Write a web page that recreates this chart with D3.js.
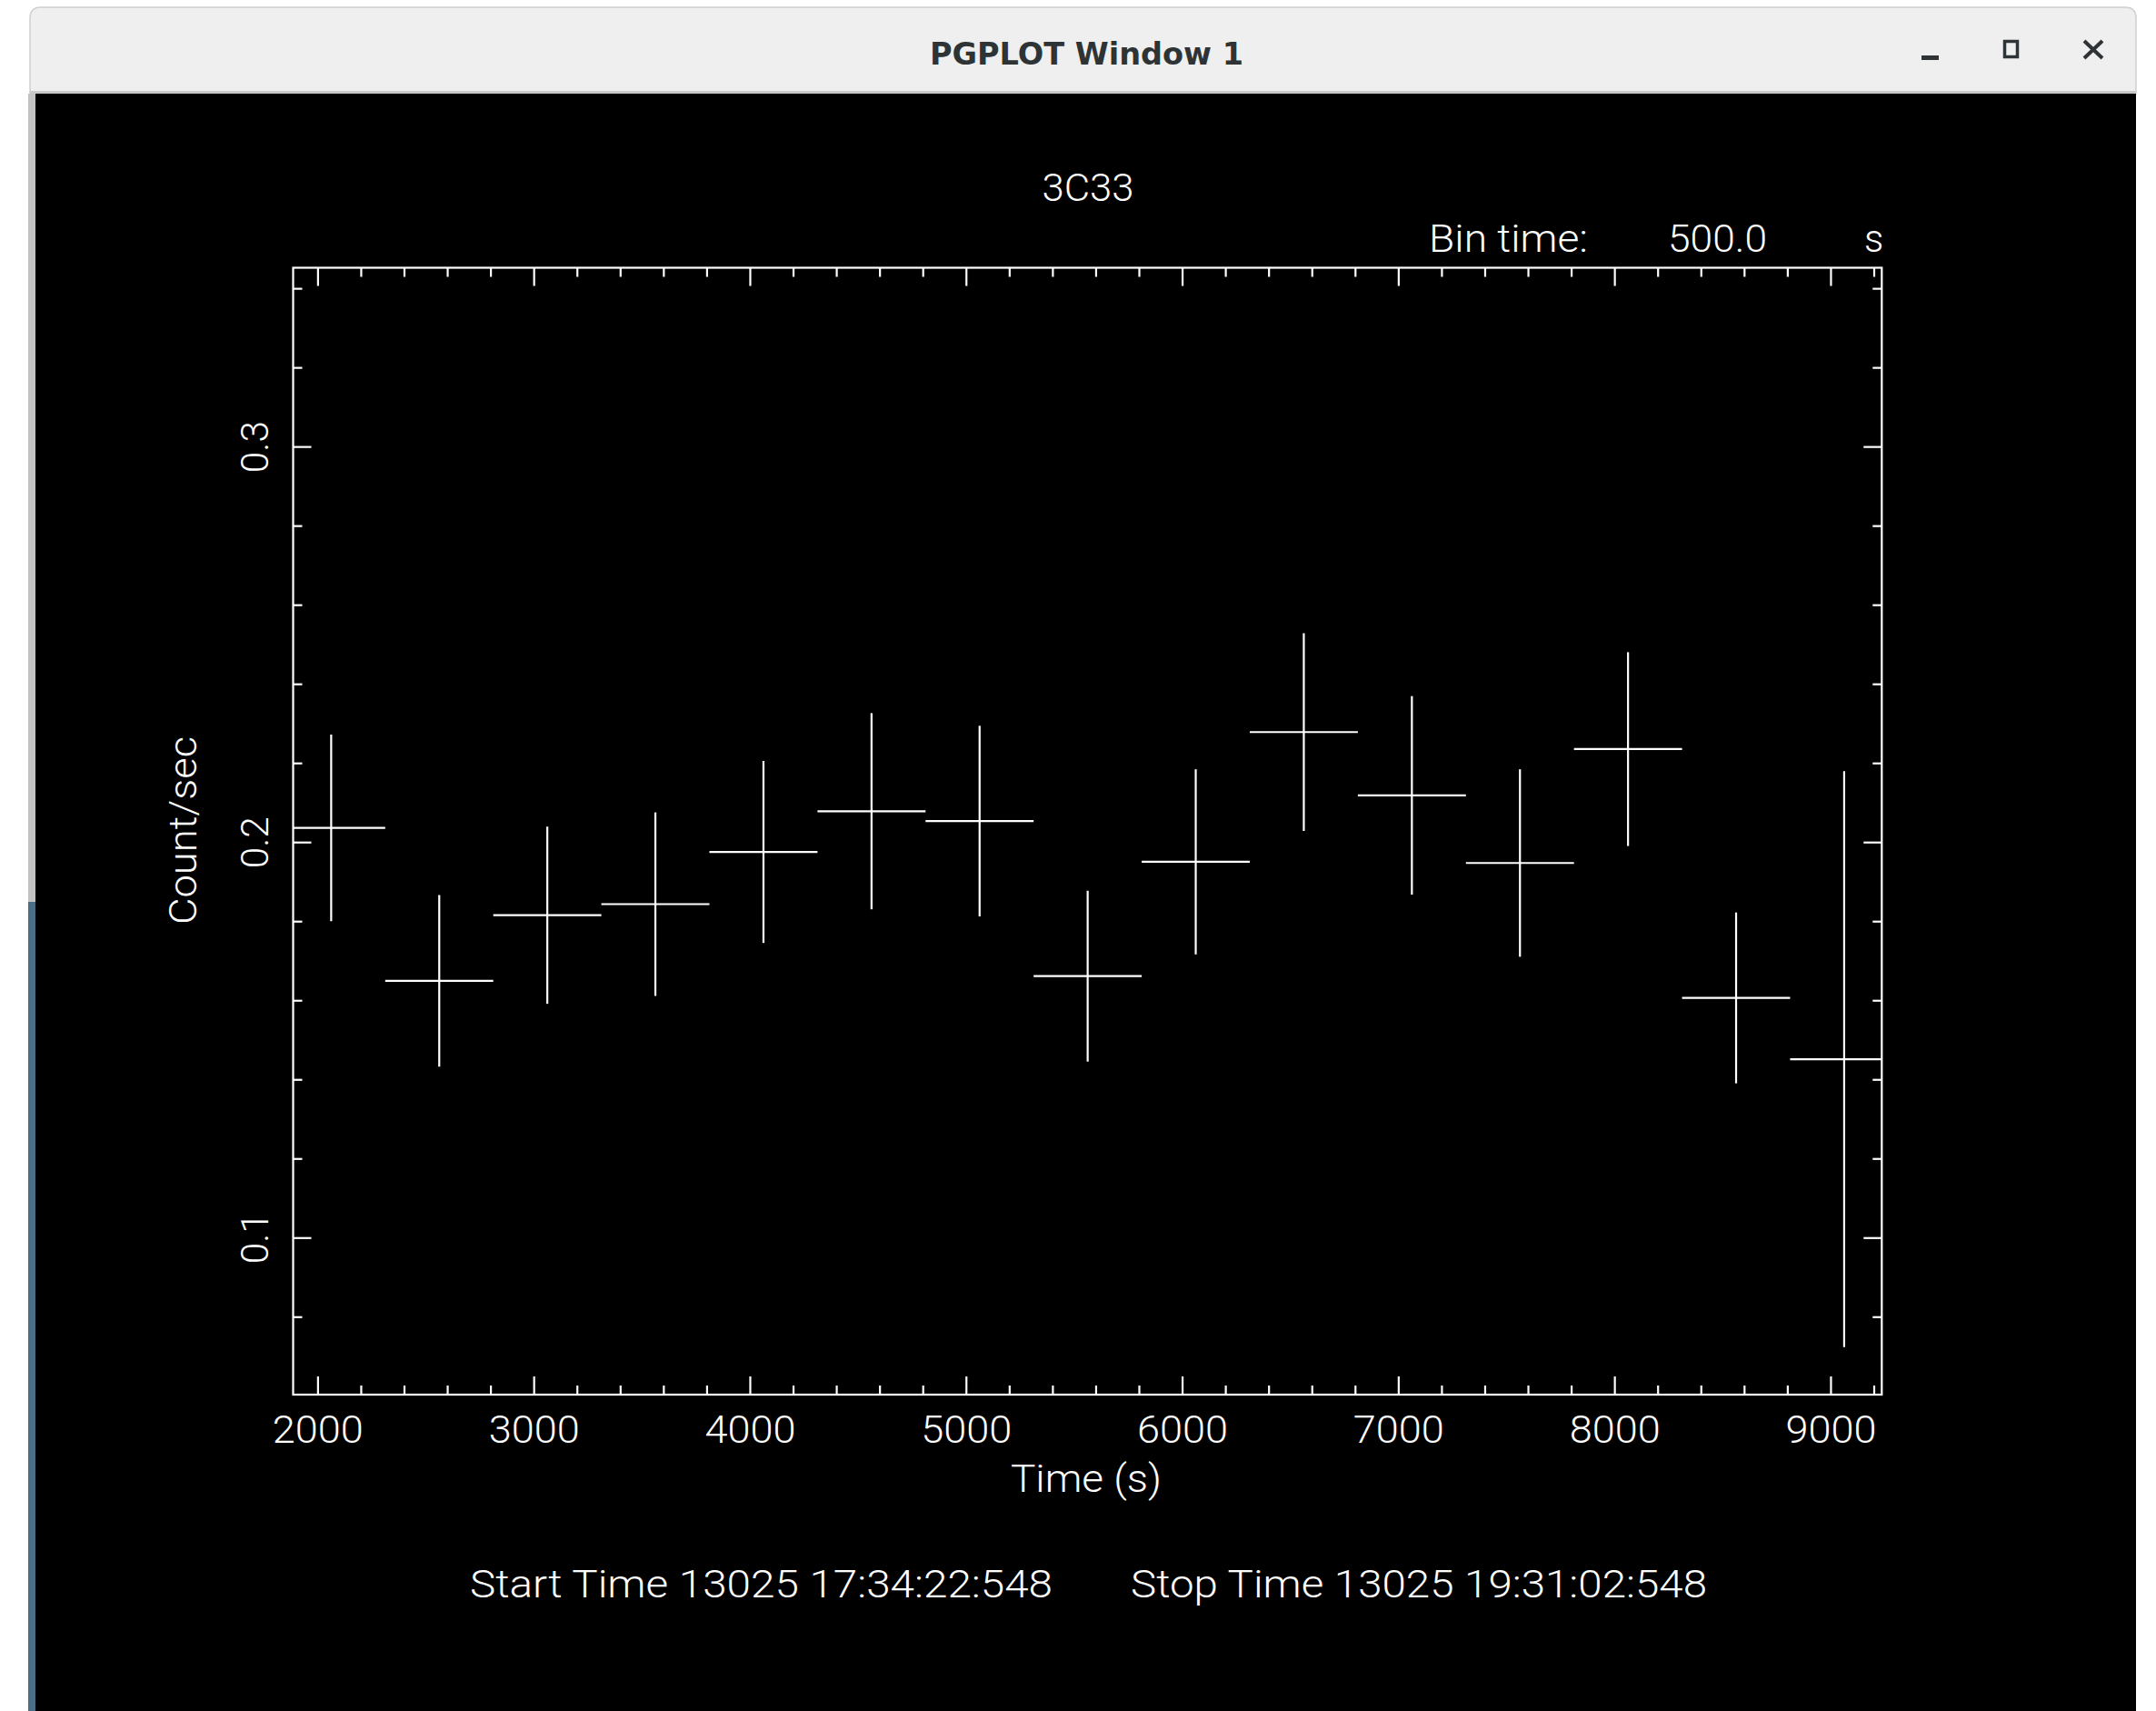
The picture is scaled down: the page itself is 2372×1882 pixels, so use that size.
<!DOCTYPE html>
<html>
<head>
<meta charset="utf-8">
<script src="https://cdn.jsdelivr.net/npm/d3@7"></script>
<style>
  html, body { margin: 0; padding: 0; background: #ffffff; }
  svg { display: block; }
</style>
</head>
<body>
<script>
// ---------------- data ----------------
const plotTitle = "3C33";
const binTimeLabel = "Bin time:";
const binTimeValue = "500.0";
const binTimeUnit = "s";
const yLabel = "Count/sec";
const xLabel = "Time (s)";
const startText = "Start Time 13025 17:34:22:548";
const stopText = "Stop Time 13025 19:31:02:548";
const windowTitle = "PGPLOT Window 1";

const binWidth = 500; // seconds
const timeCenters = [2063, 2563, 3063, 3563, 4063, 4563, 5063, 5563, 6063, 6563, 7063, 7563, 8063, 8563, 9063];
const countRates  = [0.2036, 0.1649, 0.1815, 0.1843, 0.1975, 0.2078, 0.2053, 0.1661, 0.1950, 0.2278, 0.2118, 0.1947, 0.2235, 0.1606, 0.1451];
const rateErrors  = [0.0236, 0.0217, 0.0224, 0.0232, 0.0230, 0.0248, 0.0241, 0.0216, 0.0234, 0.0250, 0.0251, 0.0237, 0.0245, 0.0216, 0.0728];

const xDomain = [1887, 9237];
const yDomain = [0.0603, 0.3452];
const xMajorTicks = [2000, 3000, 4000, 5000, 6000, 7000, 8000, 9000];
const xTickLabels = ["2000", "3000", "4000", "5000", "6000", "7000", "8000", "9000"];
const xMinorTicks = [2200, 2400, 2600, 2800, 3200, 3400, 3600, 3800, 4200, 4400, 4600, 4800,
                     5200, 5400, 5600, 5800, 6200, 6400, 6600, 6800, 7200, 7400, 7600, 7800,
                     8200, 8400, 8600, 8800, 9200];
const yMajorTicks = [0.1, 0.2, 0.3];
const yTickLabels = ["0.1", "0.2", "0.3"];
const yMinorTicks = [0.08, 0.12, 0.14, 0.16, 0.18, 0.22, 0.24, 0.26, 0.28, 0.32, 0.34];

// ---------------- layout ----------------
const W = 2372, H = 1882;
const frame = { left: 322.5, right: 2070.3, top: 294.5, bottom: 1534 };
const FONT = "Roboto, 'Liberation Sans', Arial, sans-serif";
const FW = 300;
const FS = 42;
const LW = 2.2;

const svg = d3.select("body").append("svg").attr("width", W).attr("height", H);

// desktop / window chrome
svg.append("rect").attr("x", 0).attr("y", 0).attr("width", W).attr("height", H).attr("fill", "#ffffff");
const wl = 33, wr = 2350, wt = 8, tb = 103, rr = 12;
svg.append("path")
  .attr("d", `M${wl},${tb} L${wl},${wt + rr} Q${wl},${wt} ${wl + rr},${wt} L${wr - rr},${wt} Q${wr},${wt} ${wr},${wt + rr} L${wr},${tb} Z`)
  .attr("fill", "#efefef").attr("stroke", "#cfcfcf").attr("stroke-width", 1.5);
svg.append("rect").attr("x", wl).attr("y", tb - 3).attr("width", wr - wl).attr("height", 3).attr("fill", "#c9c9c9");
svg.append("rect").attr("x", wl).attr("y", tb).attr("width", wr - wl).attr("height", H - tb).attr("fill", "#000000");
svg.append("rect").attr("x", 31).attr("y", tb).attr("width", 8).attr("height", 992 - tb).attr("fill", "#c2c2c2");
svg.append("rect").attr("x", 31).attr("y", 992).attr("width", 8).attr("height", H - 992).attr("fill", "#4c6e85");

svg.append("text").text(windowTitle)
  .attr("x", 1023).attr("y", 71)
  .attr("textLength", 345).attr("lengthAdjust", "spacingAndGlyphs")
  .attr("font-family", "'DejaVu Sans', sans-serif").attr("font-weight", "bold")
  .attr("font-size", 33).attr("fill", "#2e3436");
// window buttons
svg.append("rect").attr("x", 2114).attr("y", 61).attr("width", 19).attr("height", 5).attr("fill", "#2e3436");
svg.append("rect").attr("x", 2205.5).attr("y", 45.5).attr("width", 14).attr("height", 17)
  .attr("fill", "none").attr("stroke", "#2e3436").attr("stroke-width", 3.5);
svg.append("path").attr("d", "M2293,45 L2313,64 M2313,45 L2293,64")
  .attr("stroke", "#2e3436").attr("stroke-width", 4).attr("fill", "none");

// ---------------- scales ----------------
const x = d3.scaleLinear().domain(xDomain).range([frame.left, frame.right]);
const y = d3.scaleLinear().domain(yDomain).range([frame.bottom, frame.top]);

function styleAxis(g) {
  g.attr("font-family", null).attr("font-size", null);
  g.select(".domain").remove();
  g.selectAll(".tick line").attr("stroke", "#ffffff").attr("stroke-width", LW);
  g.selectAll(".tick text").attr("fill", "#ffffff").attr("font-family", FONT)
   .attr("font-weight", FW).attr("font-size", FS);
}

// bottom axis (major with labels)
const gxb = svg.append("g").attr("transform", `translate(0,${frame.bottom})`)
  .call(d3.axisBottom(x).tickValues(xMajorTicks).tickSizeInner(-20).tickSizeOuter(0)
        .tickFormat((d, i) => xTickLabels[i]));
styleAxis(gxb);
gxb.selectAll(".tick text").attr("y", 53).attr("dy", 0)
   .attr("textLength", 100).attr("lengthAdjust", "spacingAndGlyphs");
// bottom minor
styleAxis(svg.append("g").attr("transform", `translate(0,${frame.bottom})`)
  .call(d3.axisBottom(x).tickValues(xMinorTicks).tickSizeInner(-10).tickSizeOuter(0).tickFormat("")));
// top axis
styleAxis(svg.append("g").attr("transform", `translate(0,${frame.top})`)
  .call(d3.axisTop(x).tickValues(xMajorTicks).tickSizeInner(-20).tickSizeOuter(0).tickFormat("")));
styleAxis(svg.append("g").attr("transform", `translate(0,${frame.top})`)
  .call(d3.axisTop(x).tickValues(xMinorTicks).tickSizeInner(-10).tickSizeOuter(0).tickFormat("")));

// left axis
const gyl = svg.append("g").attr("transform", `translate(${frame.left},0)`)
  .call(d3.axisLeft(y).tickValues(yMajorTicks).tickSizeInner(-20).tickSizeOuter(0)
        .tickFormat((d, i) => yTickLabels[i]));
styleAxis(gyl);
gyl.selectAll(".tick text")
  .attr("x", 0).attr("y", -27.5).attr("dy", 0)
  .attr("transform", "rotate(-90)").attr("text-anchor", "middle")
  .attr("textLength", 57).attr("lengthAdjust", "spacingAndGlyphs");
styleAxis(svg.append("g").attr("transform", `translate(${frame.left},0)`)
  .call(d3.axisLeft(y).tickValues(yMinorTicks).tickSizeInner(-10).tickSizeOuter(0).tickFormat("")));
// right axis
styleAxis(svg.append("g").attr("transform", `translate(${frame.right},0)`)
  .call(d3.axisRight(y).tickValues(yMajorTicks).tickSizeInner(-20).tickSizeOuter(0).tickFormat("")));
styleAxis(svg.append("g").attr("transform", `translate(${frame.right},0)`)
  .call(d3.axisRight(y).tickValues(yMinorTicks).tickSizeInner(-10).tickSizeOuter(0).tickFormat("")));

// frame
svg.append("rect")
  .attr("x", frame.left).attr("y", frame.top)
  .attr("width", frame.right - frame.left).attr("height", frame.bottom - frame.top)
  .attr("fill", "none").attr("stroke", "#ffffff").attr("stroke-width", LW);

// ---------------- data: error crosses ----------------
svg.append("clipPath").attr("id", "plotclip").append("rect")
  .attr("x", frame.left).attr("y", frame.top)
  .attr("width", frame.right - frame.left).attr("height", frame.bottom - frame.top);

const pts = timeCenters.map((t, i) => ({ t, r: countRates[i], e: rateErrors[i] }));
const gData = svg.append("g").attr("clip-path", "url(#plotclip)");
gData.selectAll("line.h").data(pts).join("line").attr("class", "h")
  .attr("x1", d => x(d.t - binWidth / 2)).attr("x2", d => x(d.t + binWidth / 2))
  .attr("y1", d => y(d.r)).attr("y2", d => y(d.r))
  .attr("stroke", "#ffffff").attr("stroke-width", LW);
gData.selectAll("line.v").data(pts).join("line").attr("class", "v")
  .attr("x1", d => x(d.t)).attr("x2", d => x(d.t))
  .attr("y1", d => y(d.r - d.e)).attr("y2", d => y(d.r + d.e))
  .attr("stroke", "#ffffff").attr("stroke-width", LW);

// ---------------- texts ----------------
function label(str, xx, yy, opts = {}) {
  const t = svg.append("text").text(str)
    .attr("x", xx).attr("y", yy)
    .attr("font-family", FONT).attr("font-weight", FW).attr("font-size", FS).attr("fill", "#ffffff")
    .attr("text-anchor", opts.anchor || "start");
  if (opts.len) t.attr("textLength", opts.len).attr("lengthAdjust", "spacingAndGlyphs");
  if (opts.transform) t.attr("transform", opts.transform);
  return t;
}
label(plotTitle, 1197, 221, { anchor: "middle", len: 101 });
label(binTimeLabel, 1572, 277, { len: 175 });
label(binTimeValue, 1835, 277, { len: 109 });
label(binTimeUnit, 2051, 277);
label(xLabel, 1195, 1641, { anchor: "middle", len: 166 });
label(yLabel, 0, 0, { anchor: "middle", len: 207, transform: "translate(216,913.5) rotate(-90)" });
label(startText, 517, 1757, { len: 641 });
label(stopText, 1244, 1757, { len: 634 });
</script>
</body>
</html>
